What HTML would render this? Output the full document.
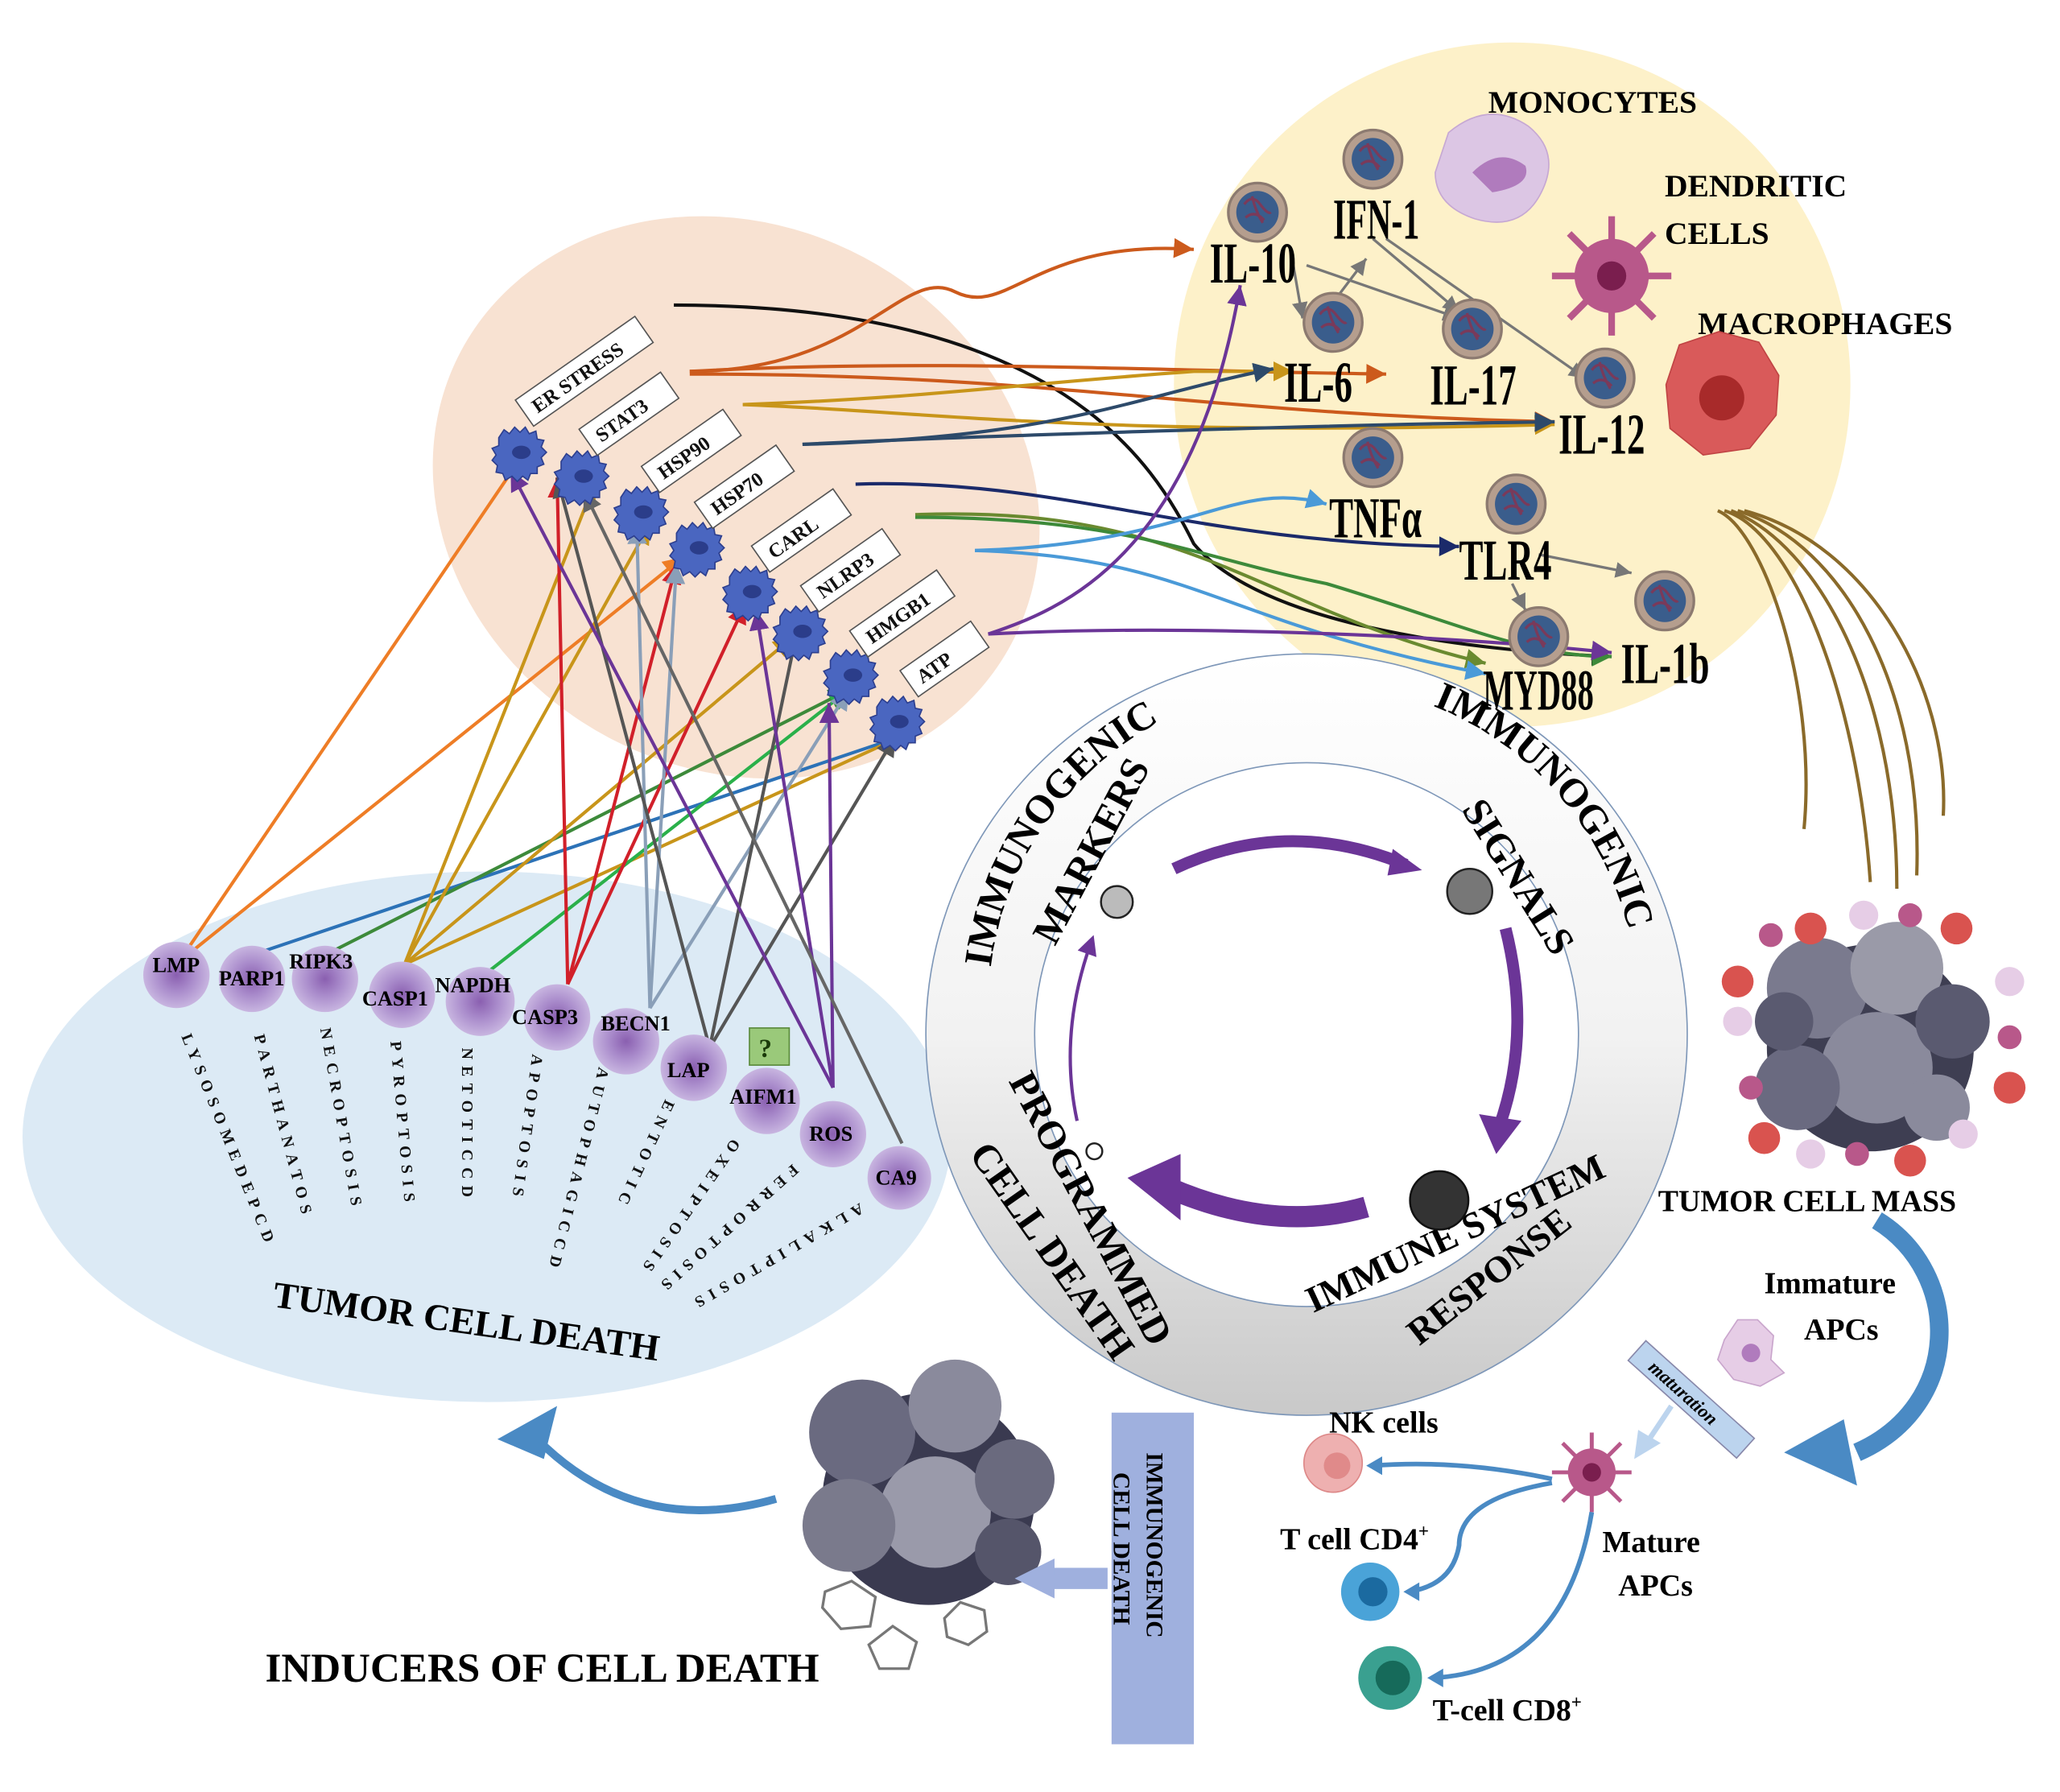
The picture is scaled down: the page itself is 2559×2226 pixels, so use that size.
<!DOCTYPE html>
<html><head><meta charset="utf-8"><style>
html,body{margin:0;padding:0;background:#fff}
svg{display:block}
text{font-family:"Liberation Serif",serif;font-weight:bold}
</style></head><body>
<svg width="2559" height="2226" viewBox="0 0 1553 1351" preserveAspectRatio="none" xmlns="http://www.w3.org/2000/svg">
<defs>
<linearGradient id="ringg" x1="0" y1="0" x2="0" y2="1"><stop offset="0" stop-color="#ffffff"/><stop offset="0.5" stop-color="#f2f2f2"/><stop offset="1" stop-color="#c9c9c9"/></linearGradient>
<radialGradient id="pc" cx="50%" cy="50%" r="50%"><stop offset="0" stop-color="#8a5fb0"/><stop offset="0.5" stop-color="#a98bcb"/><stop offset="1" stop-color="#c8b5e0"/></radialGradient>
<marker id="ah" markerWidth="8" markerHeight="8" refX="6" refY="3" orient="auto"><path d="M0,0 L6,3 L0,6 z" fill="context-stroke"/></marker>
<marker id="pa" markerWidth="6" markerHeight="6" refX="3" refY="3" orient="auto"><path d="M0,0 L6,3 L0,6 z" fill="#6b3597"/></marker>
<path id="arcTop" d="M745,760 A245,245 0 0 1 1235,760"/>
<g id="bcell"><path d="M-17,-10 l4,-6 l4,3 l4,-5 l4,4 l4,-4 l3,5 l5,-2 l1,6 l5,1 l-2,5 l4,4 l-4,4 l2,5 l-5,2 l0,5 l-5,0 l-2,5 l-4,-3 l-4,4 l-4,-4 l-5,3 l-2,-5 l-5,-1 l1,-5 l-4,-4 l3,-4 l-3,-5 l5,-2z" fill="#4a66c0" stroke="#2d3f8f" stroke-width="1"/><ellipse cx="0" cy="1" rx="7" ry="5" fill="#2b3d8a"/></g>
<g id="cyto"><circle r="22" fill="#b59e8e" stroke="#8c7a70" stroke-width="2"/><circle r="16" fill="#3a5d8c"/><path d="M-10,-6 q6,-8 12,0 t8,6 M-9,4 q7,-6 14,2 M-4,-12 q2,10 8,20" stroke="#7a3a5a" stroke-width="2" fill="none"/></g>
</defs>

<ellipse cx="1140" cy="290" rx="255" ry="258" fill="#fdf1c9"/>
<ellipse cx="555" cy="375" rx="235" ry="205" transform="rotate(28 555 375)" fill="#f8e2d2"/>
<ellipse cx="367" cy="857" rx="350" ry="200" fill="#dceaf5"/>

<circle cx="985" cy="780" r="287" fill="url(#ringg)" stroke="#7e97b8" stroke-width="1"/>
<circle cx="985" cy="780" r="205" fill="#fff" stroke="#7e97b8" stroke-width="1"/>
<text font-size="30" fill="#000"><textPath href="#arcTop" startOffset="4%">IMMUNOGENIC</textPath></text>
<text font-size="30" fill="#000"><textPath href="#arcTop" startOffset="62%">IMMUNOGENIC</textPath></text>
<text x="775" y="720" font-size="30" transform="rotate(-62 780 700)">MARKERS</text>
<text x="1085" y="640" font-size="30" transform="rotate(58 1120 640)">SIGNALS</text>
<text x="760" y="815" font-size="30" transform="rotate(62 760 815)">PROGRAMMED</text>
<text x="730" y="870" font-size="30" transform="rotate(55 730 870)">CELL DEATH</text>
<text x="990" y="990" font-size="28" transform="rotate(-25 990 990)">IMMUNE SYSTEM</text>
<text x="1070" y="1015" font-size="28" transform="rotate(-38 1070 1015)">RESPONSE</text>
<circle cx="842" cy="680" r="12" fill="#bbb" stroke="#222" stroke-width="1.5"/>
<circle cx="1108" cy="672" r="17" fill="#777" stroke="#222" stroke-width="1.5"/>
<circle cx="1085" cy="905" r="22" fill="#333" stroke="#111" stroke-width="1.5"/>
<circle cx="825" cy="868" r="6" fill="#fff" stroke="#222" stroke-width="1.5"/>
<path d="M885,655 Q970,615 1060,652" stroke="#6b3597" stroke-width="9" fill="none"/>
<path d="M1050,640 L1072,656 L1046,660z" fill="#6b3597"/>
<path d="M1135,700 Q1155,780 1130,850" stroke="#6b3597" stroke-width="9" fill="none"/>
<path d="M1115,840 L1128,870 L1147,845z" fill="#6b3597"/>
<path d="M1030,910 Q960,930 880,895" stroke="#6b3597" stroke-width="16" fill="none"/>
<path d="M890,870 L850,888 L890,920z" fill="#6b3597"/>
<path d="M812,845 Q798,780 822,712" stroke="#6b3597" stroke-width="2.5" fill="none" marker-end="url(#pa)"/>

<g fill="none" stroke-width="2.5" marker-end="url(#ah)">
<path d="M135,725 L403,330" stroke="#ee7d26"/>
<path d="M135,725 L515,420" stroke="#ee7d26"/>
<path d="M190,720 L680,555" stroke="#2c72b7"/>
<path d="M245,720 L640,520" stroke="#3d8a3a"/>
<path d="M305,727 L448,365" stroke="#c8951a"/>
<path d="M305,727 L490,395" stroke="#c8951a"/>
<path d="M305,727 L598,480" stroke="#c8951a"/>
<path d="M305,727 L680,555" stroke="#c8951a"/>
<path d="M365,735 L640,520" stroke="#2ab04a"/>
<path d="M428,742 L420,360" stroke="#d1202a"/>
<path d="M428,742 L510,425" stroke="#d1202a"/>
<path d="M428,742 L562,455" stroke="#d1202a"/>
<path d="M490,760 L480,395" stroke="#8a9fb8"/>
<path d="M490,760 L510,425" stroke="#8a9fb8"/>
<path d="M490,760 L640,520" stroke="#8a9fb8"/>
<path d="M535,790 L420,360" stroke="#555"/>
<path d="M535,790 L600,480" stroke="#555"/>
<path d="M535,790 L675,555" stroke="#555"/>
<path d="M628,820 L385,355" stroke="#6b3597"/>
<path d="M628,820 L570,460" stroke="#6b3597"/>
<path d="M628,820 L625,530" stroke="#6b3597"/>
<path d="M680,862 L440,370" stroke="#666"/>
<path d="M508,230 C800,230 870,350 900,410 C950,470 1100,490 1215,495" stroke="#111"/>
<path d="M520,280 C700,270 880,280 1045,282" stroke="#cc5a1c"/>
<path d="M520,280 C650,280 680,200 720,220 C760,240 780,180 900,188" stroke="#cc5a1c"/>
<path d="M520,282 C800,282 900,312 1172,318" stroke="#cc5a1c"/>
<path d="M560,305 C700,310 820,330 1172,320" stroke="#c8951a"/>
<path d="M560,305 C700,300 760,290 900,280 L975,280" stroke="#c8951a"/>
<path d="M605,335 C800,330 850,300 960,278" stroke="#2d4a6a"/>
<path d="M605,335 C700,330 1000,320 1172,318" stroke="#2d4a6a"/>
<path d="M645,365 C800,360 900,410 1100,412" stroke="#1b2a6a"/>
<path d="M690,388 C900,380 950,460 1120,500" stroke="#6a8a30"/>
<path d="M690,390 C850,390 900,420 1000,440 C1100,470 1150,495 1215,495" stroke="#3d8a3a"/>
<path d="M735,415 C900,410 930,360 1000,380" stroke="#4a9ad8"/>
<path d="M735,415 C900,420 920,470 1120,508" stroke="#4a9ad8"/>
<path d="M745,478 C800,460 900,420 935,215" stroke="#6b3597"/>
<path d="M745,478 C900,470 1100,480 1215,492" stroke="#6b3597"/>
</g>
<g fill="none" stroke="#777" stroke-width="2" marker-end="url(#ah)">
<path d="M985,200 L1100,240"/><path d="M975,200 L982,240"/><path d="M1005,228 L1030,195"/>
<path d="M1035,180 L1100,235"/><path d="M1045,180 L1195,285"/><path d="M1160,418 L1230,432"/>
<path d="M1140,440 L1150,460"/>
</g>

<g>
<use href="#bcell" x="393" y="340"/><use href="#bcell" x="440" y="358"/><use href="#bcell" x="485" y="385"/><use href="#bcell" x="527" y="412"/><use href="#bcell" x="567" y="445"/><use href="#bcell" x="605" y="475"/><use href="#bcell" x="643" y="508"/><use href="#bcell" x="678" y="543"/>
</g>
<g font-size="15" fill="#111" stroke="none">
<g transform="translate(400,318) rotate(-35)"><rect x="0" y="-20" width="110" height="24" fill="#fff" stroke="#555"/><text x="8" y="-2">ER STRESS</text></g>
<g transform="translate(448,340) rotate(-35)"><rect x="0" y="-20" width="75" height="24" fill="#fff" stroke="#555"/><text x="8" y="-2">STAT3</text></g>
<g transform="translate(495,368) rotate(-35)"><rect x="0" y="-20" width="75" height="24" fill="#fff" stroke="#555"/><text x="8" y="-2">HSP90</text></g>
<g transform="translate(535,395) rotate(-35)"><rect x="0" y="-20" width="75" height="24" fill="#fff" stroke="#555"/><text x="8" y="-2">HSP70</text></g>
<g transform="translate(578,428) rotate(-35)"><rect x="0" y="-20" width="75" height="24" fill="#fff" stroke="#555"/><text x="8" y="-2">CARL</text></g>
<g transform="translate(615,458) rotate(-35)"><rect x="0" y="-20" width="75" height="24" fill="#fff" stroke="#555"/><text x="8" y="-2">NLRP3</text></g>
<g transform="translate(652,492) rotate(-35)"><rect x="0" y="-20" width="80" height="24" fill="#fff" stroke="#555"/><text x="8" y="-2">HMGB1</text></g>
<g transform="translate(690,522) rotate(-35)"><rect x="0" y="-20" width="65" height="24" fill="#fff" stroke="#555"/><text x="8" y="-2">ATP</text></g>
</g>

<use href="#cyto" x="948" y="160"/><use href="#cyto" x="1035" y="120"/><use href="#cyto" x="1005" y="243"/><use href="#cyto" x="1110" y="248"/><use href="#cyto" x="1210" y="285"/><use href="#cyto" x="1035" y="345"/><use href="#cyto" x="1143" y="380"/><use href="#cyto" x="1160" y="480"/><use href="#cyto" x="1255" y="453"/>
<g font-size="44" fill="#000">
<text transform="translate(912,213) scale(0.62,1)">IL-10</text>
<text transform="translate(1005,180) scale(0.58,1)">IFN-1</text>
<text transform="translate(968,303) scale(0.62,1)">IL-6</text>
<text transform="translate(1078,305) scale(0.62,1)">IL-17</text>
<text transform="translate(1175,342) scale(0.62,1)">IL-12</text>
<text transform="translate(1002,405) scale(0.62,1)">TNFα</text>
<text transform="translate(1100,437) scale(0.62,1)">TLR4</text>
<text transform="translate(1118,535) scale(0.56,1)">MYD88</text>
<text transform="translate(1222,515) scale(0.62,1)">IL-1b</text>
</g>
<g font-size="24" fill="#000">
<text x="1122" y="85">MONOCYTES</text>
<text x="1255" y="148">DENDRITIC</text><text x="1255" y="184">CELLS</text>
<text x="1280" y="252">MACROPHAGES</text>
</g>
<path d="M1092,100 q30,-25 60,-5 q25,20 10,50 q-15,30 -50,20 q-30,-10 -30,-35z" fill="#dcc6e4" stroke="#c6a8d3"/>
<path d="M1110,130 q20,-20 40,-5 q5,15 -25,20z" fill="#b07bbd"/>
<g transform="translate(1215,208)"><circle r="28" fill="#b8588a"/><g stroke="#b8588a" stroke-width="5"><line x1="0" y1="-45" x2="0" y2="45"/><line x1="-45" y1="0" x2="45" y2="0"/><line x1="-32" y1="-32" x2="32" y2="32"/><line x1="-32" y1="32" x2="32" y2="-32"/></g><circle r="11" fill="#7a1e4e"/></g>
<g transform="translate(1298,300)"><path d="M-42,-10 l10,-30 l30,-10 l30,8 l15,25 l-2,30 l-20,25 l-35,5 l-25,-20z" fill="#d95a5a" stroke="#c04444"/><circle r="17" fill="#a82a2a"/></g>
<g fill="none" stroke="#8a6a2a" stroke-width="2.5">
<path d="M1295,385 C1330,400 1370,520 1360,625"/><path d="M1300,385 C1350,400 1400,520 1410,665"/><path d="M1305,385 C1370,410 1430,520 1430,670"/><path d="M1310,385 C1390,410 1450,520 1445,660"/><path d="M1315,385 C1410,410 1470,520 1465,615"/>
</g>

<g>
<circle cx="1410" cy="790" r="78" fill="#3e3e52"/>
<circle cx="1370" cy="745" r="38" fill="#7a7a8e"/><circle cx="1430" cy="730" r="35" fill="#9a9aa8"/><circle cx="1415" cy="805" r="42" fill="#8a8a9c"/><circle cx="1355" cy="820" r="32" fill="#6a6a80"/><circle cx="1472" cy="770" r="28" fill="#5a5a70"/><circle cx="1460" cy="835" r="25" fill="#8a8a9c"/><circle cx="1345" cy="770" r="22" fill="#5a5a70"/>
<g fill="#d9534f"><circle cx="1310" cy="740" r="12"/><circle cx="1365" cy="700" r="12"/><circle cx="1475" cy="700" r="12"/><circle cx="1515" cy="820" r="12"/><circle cx="1330" cy="858" r="12"/><circle cx="1440" cy="875" r="12"/></g>
<g fill="#e6cde6"><circle cx="1310" cy="770" r="11"/><circle cx="1405" cy="690" r="11"/><circle cx="1515" cy="740" r="11"/><circle cx="1480" cy="855" r="11"/><circle cx="1365" cy="870" r="11"/></g>
<g fill="#b8588a"><circle cx="1335" cy="705" r="9"/><circle cx="1440" cy="690" r="9"/><circle cx="1515" cy="782" r="9"/><circle cx="1320" cy="820" r="9"/><circle cx="1400" cy="870" r="9"/></g>
</g>
<text x="1250" y="913" font-size="23">TUMOR CELL MASS</text>
<path d="M1415,920 C1480,960 1480,1060 1400,1095" stroke="#4a8ac4" stroke-width="14" fill="none"/>
<path d="M1345,1095 L1390,1070 L1400,1120z" fill="#4a8ac4"/>
<text x="1330" y="975" font-size="23">Immature</text><text x="1360" y="1010" font-size="23">APCs</text>
<path d="M1300,1010 l10,-15 l15,0 l12,12 l-2,18 l10,10 l-18,10 l-20,-5 l-12,-15z" fill="#e6cde6" stroke="#c9a5cc"/><circle cx="1320" cy="1020" r="7" fill="#b07bbd"/>
<g transform="translate(1275,1055) rotate(42)"><rect x="-55" y="-10" width="110" height="20" fill="#bcd4ee" stroke="#88a"/><text x="-40" y="5" font-size="14" font-style="italic">maturation</text></g>
<path d="M1260,1060 L1240,1090" stroke="#bcd4ee" stroke-width="4"/><path d="M1232,1100 L1235,1078 L1252,1088z" fill="#bcd4ee"/>
<g transform="translate(1200,1110)"><circle r="18" fill="#b8588a"/><g stroke="#b8588a" stroke-width="3"><line x1="0" y1="-30" x2="0" y2="30"/><line x1="-30" y1="0" x2="30" y2="0"/><line x1="-22" y1="-22" x2="22" y2="22"/><line x1="-22" y1="22" x2="22" y2="-22"/></g><circle r="7" fill="#7a1e4e"/></g>
<text x="1208" y="1170" font-size="23">Mature</text><text x="1220" y="1203" font-size="23">APCs</text>
<text x="1002" y="1080" font-size="23">NK cells</text>
<circle cx="1005" cy="1103" r="22" fill="#eeb0b0" stroke="#d88"/><circle cx="1008" cy="1105" r="10" fill="#e08a8a"/>
<text x="965" y="1168" font-size="23">T cell CD4<tspan font-size="14" dy="-9">+</tspan></text>
<circle cx="1033" cy="1200" r="22" fill="#4aa3d8"/><circle cx="1035" cy="1200" r="11" fill="#1b6aa0"/>
<text x="1080" y="1297" font-size="23">T-cell CD8<tspan font-size="14" dy="-9">+</tspan></text>
<circle cx="1048" cy="1265" r="24" fill="#3aa090"/><circle cx="1050" cy="1265" r="13" fill="#166a5a"/>
<g fill="none" stroke="#4a8ac4" stroke-width="3.5">
<path d="M1170,1115 Q1100,1100 1035,1105"/><path d="M1170,1118 Q1100,1130 1100,1165 Q1095,1195 1062,1200"/><path d="M1200,1140 Q1180,1260 1080,1265"/>
</g>
<g fill="#4a8ac4"><path d="M1030,1105 l12,-7 l0,14z"/><path d="M1058,1200 l12,-7 l0,14z"/><path d="M1076,1265 l12,-7 l0,14z"/></g>

<g>
<circle cx="133" cy="735" r="25" fill="url(#pc)"/><circle cx="190" cy="738" r="25" fill="url(#pc)"/><circle cx="245" cy="738" r="25" fill="url(#pc)"/><circle cx="303" cy="750" r="25" fill="url(#pc)"/><circle cx="362" cy="755" r="26" fill="url(#pc)"/><circle cx="420" cy="767" r="25" fill="url(#pc)"/><circle cx="472" cy="785" r="25" fill="url(#pc)"/><circle cx="523" cy="805" r="25" fill="url(#pc)"/><circle cx="578" cy="830" r="25" fill="url(#pc)"/><circle cx="628" cy="855" r="25" fill="url(#pc)"/><circle cx="678" cy="888" r="24" fill="url(#pc)"/>
</g>
<rect x="565" y="775" width="30" height="28" fill="#9ac97a" stroke="#5a8a3a"/><text x="572" y="797" font-size="20" fill="#1a3a0a">?</text>
<g font-size="16" fill="#000">
<text x="115" y="733">LMP</text><text x="165" y="743">PARP1</text><text x="218" y="730">RIPK3</text><text x="273" y="758">CASP1</text><text x="328" y="748">NAPDH</text><text x="386" y="772">CASP3</text><text x="453" y="777">BECN1</text><text x="503" y="812">LAP</text><text x="550" y="832">AIFM1</text><text x="610" y="860">ROS</text><text x="660" y="893">CA9</text>
</g>
<g font-size="12" fill="#111" font-weight="normal">
<text x="140" y="780" writing-mode="tb" letter-spacing="5" transform="rotate(-22 140 780)">LYSOSOMEDEPCD</text>
<text x="195" y="780" writing-mode="tb" letter-spacing="5" transform="rotate(-15 195 780)">PARTHANATOS</text>
<text x="245" y="775" writing-mode="tb" letter-spacing="5" transform="rotate(-10 245 775)">NECROPTOSIS</text>
<text x="298" y="785" writing-mode="tb" letter-spacing="5" transform="rotate(-5 298 785)">PYROPTOSIS</text>
<text x="352" y="790" writing-mode="tb" letter-spacing="5">NETOTICCD</text>
<text x="405" y="795" writing-mode="tb" letter-spacing="5" transform="rotate(8 405 795)">APOPTOSIS</text>
<text x="455" y="805" writing-mode="tb" letter-spacing="5" transform="rotate(14 455 805)">AUTOPHAGICCD</text>
<text x="505" y="830" writing-mode="tb" letter-spacing="5" transform="rotate(25 505 830)">ENTOTIC</text>
<text x="555" y="860" writing-mode="tb" letter-spacing="5" transform="rotate(35 555 860)">OXEIPTOSIS</text>
<text x="600" y="880" writing-mode="tb" letter-spacing="5" transform="rotate(48 600 880)">FERROPTOSIS</text>
<text x="650" y="910" writing-mode="tb" letter-spacing="5" transform="rotate(60 650 910)">ALKALIPTOSIS</text>
</g>
<text x="205" y="985" font-size="28" transform="rotate(8 205 985)">TUMOR CELL DEATH</text>

<g>
<circle cx="700" cy="1130" r="80" fill="#3a3a50"/>
<circle cx="650" cy="1080" r="40" fill="#6a6a80"/><circle cx="720" cy="1060" r="35" fill="#8a8a9c"/><circle cx="705" cy="1140" r="42" fill="#9a9aaa"/><circle cx="640" cy="1150" r="35" fill="#7a7a8c"/><circle cx="765" cy="1115" r="30" fill="#6a6a7e"/><circle cx="760" cy="1170" r="25" fill="#55556a"/>
</g>
<g fill="none" stroke="#777" stroke-width="2">
<path d="M622,1200 l20,-8 l18,12 l-4,22 l-22,2 l-14,-16z"/><path d="M655,1240 l18,-14 l18,12 l-6,20 l-22,0z"/><path d="M712,1220 l12,-12 l18,6 l2,16 l-14,10 l-16,-6z"/>
</g>
<text x="200" y="1268" font-size="31">INDUCERS OF CELL DEATH</text>
<rect x="838" y="1065" width="62" height="250" fill="#9fb0de"/>
<text x="870" y="1095" font-size="18" writing-mode="tb">IMMUNOGENIC</text>
<text x="845" y="1110" font-size="18" writing-mode="tb">CELL DEATH</text>
<path d="M835,1190 L790,1190" stroke="#9fb0de" stroke-width="16"/><path d="M795,1175 L765,1190 L795,1205z" fill="#9fb0de"/>
<path d="M585,1130 Q480,1160 405,1085" stroke="#4a8ac4" stroke-width="6" fill="none"/>
<path d="M375,1085 L420,1060 L410,1100z" fill="#4a8ac4"/>
</svg>
</body></html>
